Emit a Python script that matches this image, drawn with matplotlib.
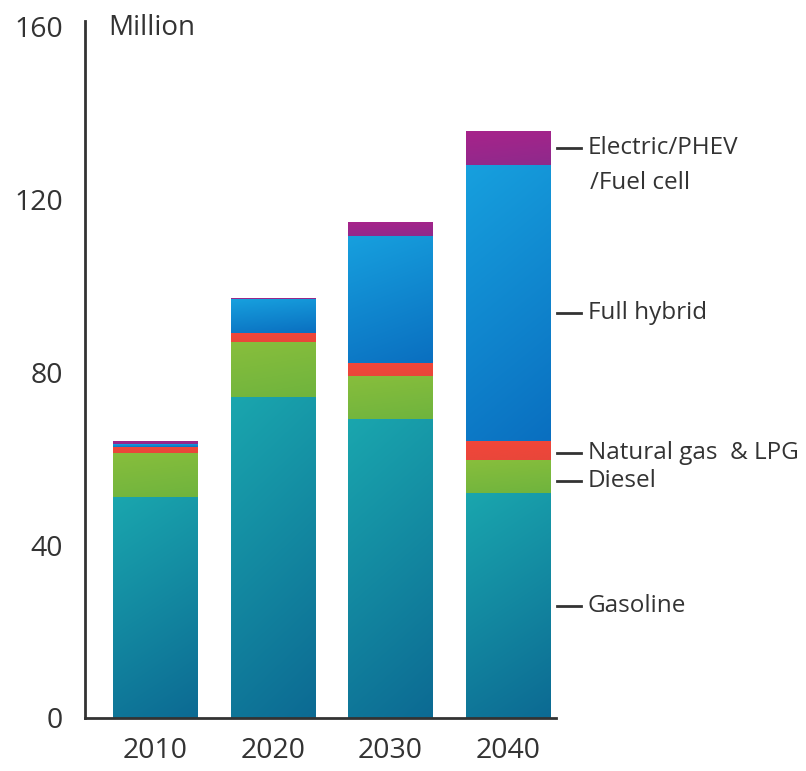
import numpy as np
import matplotlib.pyplot as plt
import matplotlib.colors as mcolors

plt.rcParams['font.family'] = ['Open Sans', 'DejaVu Sans']

years = ['2010', '2020', '2030', '2040']
gasoline = [51.1, 74.4, 69.1, 52.0]
diesel = [10.2, 12.5, 10.1, 7.6]
natural_gas = [1.5, 2.2, 3.0, 4.4]
full_hybrid = [0.6, 7.8, 29.4, 64.0]
electric = [0.7, 0.3, 3.1, 7.9]

series = [
    ('Gasoline', gasoline, '#0c6a93', '#1aa6ae'),
    ('Diesel', diesel, '#6fb43e', '#88be3c'),
    ('Natural gas  & LPG', natural_gas, '#e8463a', '#f2473a'),
    ('Full hybrid', full_hybrid, '#0a6fc0', '#17a0de'),
    ('Electric/PHEV', electric, '#8e2a8c', '#a8238a'),
]

W, H = 806, 771
fig = plt.figure(figsize=(W / 100, H / 100), dpi=100)
ax = fig.add_axes([85 / W, 1 - 718 / H, (556 - 85) / W, (718 - 21) / H])

x = np.arange(len(years))
width = 0.715
bottom = np.zeros(len(years))


def gradient_fill(patch, c_bot, c_top):
    x0, y0 = patch.get_x(), patch.get_y()
    w, h = patch.get_width(), patch.get_height()
    if h <= 0:
        return
    n = 64
    yy, xx = np.mgrid[0:1:n * 1j, 0:1:n * 1j]
    t = np.clip(0.8 * yy + 0.2 * (1 - xx), 0, 1)
    cb = np.array(mcolors.to_rgb(c_bot))
    ct = np.array(mcolors.to_rgb(c_top))
    img = cb[None, None, :] * (1 - t[..., None]) + ct[None, None, :] * t[..., None]
    im = ax.imshow(img, extent=(x0, x0 + w, y0, y0 + h), origin='lower',
                   aspect='auto', interpolation='bilinear', zorder=2)
    im.set_clip_path(patch)


mids_2040 = {}
for name, vals, cbot, ctop in series:
    vals = np.array(vals)
    bars = ax.bar(x, vals, width, bottom=bottom, color=ctop, linewidth=0, zorder=1)
    for b in bars:
        gradient_fill(b, cbot, ctop)
    mids_2040[name] = bottom[-1] + vals[-1] / 2
    bottom = bottom + vals

ax.set_xlim(-0.596, 3.41)
ax.set_ylim(0, 161.3)

for s in ['top', 'right']:
    ax.spines[s].set_visible(False)
for s in ['left', 'bottom']:
    ax.spines[s].set_color('#333333')
    ax.spines[s].set_linewidth(2.0)

ax.set_yticks([0, 40, 80, 120, 160])
ax.set_yticklabels(['0', '40', '80', '120', '160'])
ax.set_xticks(x)
ax.set_xticklabels(years)
ax.tick_params(axis='y', length=0, pad=16, labelsize=20.5, labelcolor='#333333')
ax.tick_params(axis='x', length=0, pad=14, labelsize=20.5, labelcolor='#333333')

ax.text(-0.40, 159.7, 'Million', fontsize=20, color='#333333', va='center', ha='left')

label_pos = dict(mids_2040)
label_pos['Natural gas  & LPG'] -= 0.5
label_pos['Diesel'] -= 1.0
label_pos['Full hybrid'] -= 2.3
for name, _, _, _ in series:
    yv = label_pos[name]
    ax.plot([3.42, 3.625], [yv, yv], color='#333333', lw=2.0, clip_on=False)
    ax.text(3.68, yv, name, fontsize=17.5, color='#333333', va='center', ha='left', clip_on=False)
ax.annotate('/Fuel cell', xy=(3.70, label_pos['Electric/PHEV']), xytext=(0, -25.5),
            textcoords='offset points', fontsize=17.5, color='#333333', va='center', ha='left',
            annotation_clip=False)

fig.savefig('out.png', dpi=100)
